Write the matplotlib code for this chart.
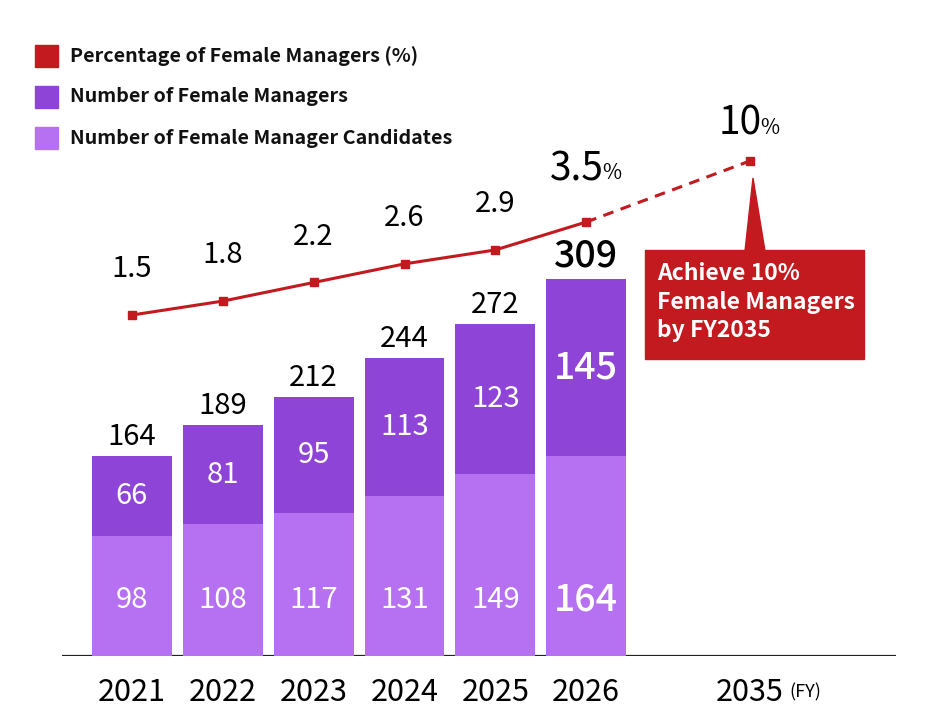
import matplotlib
matplotlib.use('Agg')
import matplotlib.pyplot as plt
from matplotlib.patches import Rectangle, Polygon
import numpy as np

plt.rcParams['font.family'] = ['Noto Sans CJK JP', 'DejaVu Sans']

# data
years = ['2021', '2022', '2023', '2024', '2025', '2026', '2035']
candidates = [98, 108, 117, 131, 149, 164]
managers = [66, 81, 95, 113, 123, 145]
pct = [1.5, 1.8, 2.2, 2.6, 2.9, 3.5, 10]
legend_labels = ['Percentage of Female Managers (%)',
                 'Number of Female Managers',
                 'Number of Female Manager Candidates']
callout_lines = ['Achieve 10%', 'Female Managers', 'by FY2035']

RED = '#c21a1e'
MGR = '#8f44d8'
CAND = '#b571f1'

W, H = 930, 727
fig = plt.figure(figsize=(W / 100, H / 100), dpi=100)


def frac(x0, y0, x1, y1):
    return [x0 / W, 1 - y1 / H, (x1 - x0) / W, (y1 - y0) / H]


xs = list(range(6)) + [6.8]
totals = [c + m for c, m in zip(candidates, managers)]

ax = fig.add_axes(frac(62, 20, 896, 656))
ax.set_xlim(-0.77, 8.41)
ax.set_ylim(0, 636 / 1.22)
ax.bar(xs[:6], candidates, width=0.88, color=CAND, zorder=2)
ax.bar(xs[:6], managers, width=0.88, bottom=candidates, color=MGR, zorder=2)
ax.axhline(0, color='#222222', lw=1.6, zorder=1)
for s in ax.spines.values():
    s.set_visible(False)
ax.set_yticks([])
ax.set_xticks(xs, years)
ax.tick_params(axis='x', length=0, pad=15, labelsize=22)

for i in range(6):
    big = i == 5
    fs = 27 if big else 21
    fw = 'medium' if big else 'normal'
    ax.text(xs[i], 46, str(candidates[i]), ha='center', va='center',
            color='white', fontsize=fs, fontweight=fw, zorder=3)
    ax.text(xs[i], candidates[i] + managers[i] / 2, str(managers[i]),
            ha='center', va='center', color='white', fontsize=fs,
            fontweight=fw, zorder=3)
    ax.annotate(str(totals[i]), (xs[i], totals[i]), xytext=(0, 3),
                textcoords='offset points', ha='center', va='bottom',
                fontsize=fs, fontweight=fw)

# percentage line, compressed above 3.5 like the original
r = 9.385 / 46.5


def fwd(v):
    v = np.asarray(v, dtype=float)
    return np.where(v <= 3.5, v, 3.5 + (v - 3.5) * r)


def inv(u):
    u = np.asarray(u, dtype=float)
    return np.where(u <= 3.5, u, 3.5 + (u - 3.5) / r)


ax2 = ax.twinx()
ax2.set_yscale('function', functions=(fwd, inv))
ax2.plot(xs[:6], pct[:6], color=RED, lw=2.2, marker='s', ms=6, zorder=4)
ax2.plot(xs[5:], pct[5:], color=RED, lw=2.2, ls=(0, (3.5, 2.5)),
         marker='s', ms=6, markevery=[1], zorder=4)
ax2.set_ylim(-5.833, 25.03)
ax2.set_yticks([])
ax2.minorticks_off()
for s in ax2.spines.values():
    s.set_visible(False)

for i in range(5):
    ax2.annotate(f'{pct[i]}', (xs[i], pct[i]), xytext=(0, 33),
                 textcoords='offset points', ha='center', va='center',
                 fontsize=21)
for i, dy in [(5, 38), (6, 27)]:
    lab = f'{pct[i]:g}'
    t = ax2.annotate(lab, (xs[i], pct[i]), xytext=(-7, dy),
                     textcoords='offset points', ha='center', va='center',
                     fontsize=28)
    ax2.annotate('%', xy=(1, 0), xycoords=t, xytext=(-1, 3.5),
                 textcoords='offset points', ha='left', va='bottom',
                 fontsize=15)

# overlay in pixel coords for legend and callout
ov = fig.add_axes([0, 0, 1, 1])
ov.set_xlim(0, W)
ov.set_ylim(H, 0)
ov.axis('off')
ov.patch.set_facecolor('none')

for j, (lab, col) in enumerate(zip(legend_labels, [RED, MGR, CAND])):
    y = 56 + j * 41
    ov.add_patch(Rectangle((35, y - 11), 23, 22, color=col))
    ov.text(70, y, lab, va='center', ha='left', fontsize=14.2,
            fontweight='bold', color='#111111')

ov.add_patch(Rectangle((645, 250), 219, 109, color=RED))
ov.add_patch(Polygon([(745, 251), (765, 251), (753, 178)], closed=True,
                     color=RED))
for j, line in enumerate(callout_lines):
    ov.text(657, 274 + j * 28.5, line, va='center', ha='left', fontsize=16.5,
            fontweight='bold', color='white')

ov.text(789, 692, '(FY)', va='center', ha='left', fontsize=13)

fig.savefig('out.png', dpi=100)
